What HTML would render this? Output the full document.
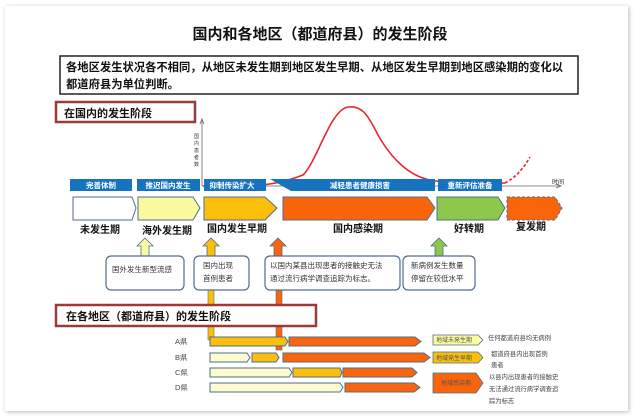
<!DOCTYPE html>
<html><head><meta charset="utf-8"><style>
html,body{margin:0;padding:0;background:#fff;}
svg{display:block;font-family:"Liberation Sans","Noto Sans CJK SC",sans-serif;}
</style></head><body>
<svg width="640" height="420" viewBox="0 0 640 420" xmlns="http://www.w3.org/2000/svg">
<defs>
<filter id="sh" x="-5%" y="-5%" width="110%" height="110%"><feDropShadow dx="1" dy="1" stdDeviation="2" flood-color="#888" flood-opacity="0.6"/></filter>
</defs>
<rect x="5" y="6" width="623" height="405" fill="#fff" filter="url(#sh)"/>
<text x="320" y="39" text-anchor="middle" font-size="15" font-weight="bold" fill="#111">国内和各地区（都道府县）的发生阶段</text>
<rect x="60" y="56" width="518" height="38" fill="#fff" stroke="#222" stroke-width="1.5"/>
<text x="66" y="71" font-size="11.3" font-weight="bold" fill="#111">各地区发生状况各不相同，从地区未发生期到地区发生早期、从地区发生早期到地区感染期的变化以</text>
<text x="66" y="88" font-size="11.3" font-weight="bold" fill="#111">都道府县为单位判断。</text>
<!-- domestic label -->
<rect x="56" y="102" width="139" height="20" fill="#fff" stroke="#9b3a3a" stroke-width="2.5"/>
<text x="64" y="117" font-size="11" font-weight="bold" fill="#111">在国内的发生阶段</text>
<!-- axes -->
<line x1="202" y1="186" x2="202" y2="120" stroke="#666" stroke-width="0.8"/>
<path d="M200,124 L202,119 L204,124" fill="none" stroke="#666" stroke-width="0.8"/>
<line x1="202" y1="186" x2="560" y2="186" stroke="#666" stroke-width="0.8"/>
<path d="M556,184 L561,186 L556,188" fill="none" stroke="#666" stroke-width="0.8"/>
<text x="552" y="184" font-size="6" fill="#222">时间</text>
<text font-size="5" fill="#333"><tspan x="194" y="138">国</tspan><tspan x="194" y="145">内</tspan><tspan x="194" y="152">患</tspan><tspan x="194" y="159">者</tspan><tspan x="194" y="166">数</tspan></text>
<path d="M203,186 L260,185 C275,184 290,180 303,175 C318,160 330,110 348,107 C362,105 368,115 378,135 C392,160 410,176 430,180 C455,185 490,184 505,183" fill="none" stroke="#e8262b" stroke-width="1.6"/>
<path d="M505,183 C515,178 524,168 530,157" fill="none" stroke="#e8262b" stroke-width="1.6" stroke-dasharray="3,2"/>
<!-- blue bars -->
<g fill="#1573c0">
<rect x="70" y="179" width="62" height="12"/>
<rect x="137" y="179" width="63" height="12"/>
<rect x="204" y="179" width="62" height="12"/>
<polygon points="270,179 435,179 435,191 291,191"/>
<rect x="438" y="179" width="64" height="12"/>
</g>
<g font-size="7.5" fill="#fff" font-weight="bold" text-anchor="middle">
<text x="101" y="188">完善体制</text>
<text x="168" y="188">推迟国内发生</text>
<text x="232" y="188">抑制传染扩大</text>
<text x="360" y="188">减轻患者健康损害</text>
<text x="470" y="188">重新评估准备</text>
</g>
<!-- phase arrows -->
<g stroke="#4f6d8e" stroke-width="1">
<polygon points="73,197 132,197 136,208 132,220 73,220" fill="#fff"/>
<polygon points="138,197 193,197 200,208 193,220 138,220" fill="#fafaa0"/>
<polygon points="204,197 265,197 277,208 265,220 204,220" fill="#fbbe0a"/>
<polygon points="283,197 427,197 435,208 427,220 283,220" fill="#fa640a"/>
<polygon points="437,197 498,197 505,208 498,220 437,220" fill="#8cc84b"/>
<polygon points="507,197 555,197 562,208 555,220 507,220" fill="#fa640a" stroke-dasharray="3,2"/>
</g>
<g font-size="10" font-weight="bold" fill="#111" text-anchor="middle">
<text x="100" y="233">未发生期</text>
<text x="167" y="234">海外发生期</text>
<text x="237" y="232">国内发生早期</text>
<text x="358" y="232">国内感染期</text>
<text x="469" y="232">好转期</text>
<text x="531" y="230">复发期</text>
</g>
<!-- up arrows -->
<g stroke="#4f6d8e" stroke-width="0.8">
<polygon points="145,238 153,246 149,246 149,256 141,256 141,246 137,246" fill="#fafaa0"/>
<polygon points="211,238 219,246 215,246 215,256 207,256 207,246 203,246" fill="#fbbe0a"/>
<polygon points="278,238 286,246 282,246 282,256 274,256 274,246 270,246" fill="#fa640a"/>
<polygon points="439,238 447,246 443,246 443,256 435,256 435,246 431,246" fill="#8cc84b"/>
</g>
<!-- vertical connectors -->
<rect x="208" y="288" width="6" height="52" fill="#fbbe0a" stroke="#4f6d8e" stroke-width="0.6"/>
<rect x="276" y="288" width="6" height="62" fill="#fa640a" stroke="#4f6d8e" stroke-width="0.6"/>
<!-- callouts -->
<g fill="#fff" stroke="#4f6d8e" stroke-width="1.2">
<rect x="106" y="256" width="78" height="34" rx="5"/>
<rect x="194" y="256" width="55" height="34" rx="5"/>
<rect x="265" y="256" width="135" height="34" rx="5"/>
<rect x="403" y="256" width="72" height="34" rx="5"/>
</g>
<g font-size="7.5" fill="#333">
<text x="112" y="272">国外发生新型流感</text>
<text x="203" y="268">国内出现</text>
<text x="203" y="281">首例患者</text>
<text x="270" y="268">以国内某县出现患者的接触史无法</text>
<text x="270" y="281">通过流行病学调查追踪为标志。</text>
<text x="411" y="268">新病例发生数量</text>
<text x="411" y="281">停留在较低水平</text>
</g>
<!-- regional label -->
<rect x="56" y="305" width="260" height="21" fill="#fff" stroke="#9b3a3a" stroke-width="2.5"/>
<text x="66" y="320" font-size="11" font-weight="bold" fill="#111">在各地区（都道府县）的发生阶段</text>
<!-- rows -->
<g font-size="7.5" fill="#444">
<text x="175" y="344">A県</text><text x="175" y="360">B県</text><text x="175" y="375">C県</text><text x="175" y="390">D県</text>
</g>
<g stroke="#4f6d8e" stroke-width="1">
<polygon points="210,337 285,337 288,341.5 285,346 210,346" fill="#fbbe0a"/>
<polygon points="289,337 415,337 421,341.5 415,346 289,346" fill="#fa640a"/>
<polygon points="210,353 247,353 250,357.5 247,362 210,362" fill="#fdfbd0"/>
<polygon points="252,353 276,353 279,357.5 276,362 252,362" fill="#fbbe0a"/>
<polygon points="283,353 424,353 430,357.5 424,362 283,362" fill="#fa640a"/>
<polygon points="210,368 289,368 292,372.5 289,377 210,377" fill="#fdfbd0"/>
<polygon points="293,368 340,368 342,372.5 340,377 293,377" fill="#fbbe0a"/>
<polygon points="343,368 412,368 417,372.5 412,377 343,377" fill="#fa640a"/>
<polygon points="210,383 340,383 343,387.5 340,392 210,392" fill="#fdfbd0"/>
<polygon points="345,383 414,383 420,387.5 414,392 345,392" fill="#fa640a"/>
</g>
<!-- legend -->
<g stroke="#4f6d8e" stroke-width="0.8">
<polygon points="433,335 478,335 483,340 478,345 433,345" fill="#fafaa0"/>
<polygon points="433,352 478,352 483,357.5 478,363 433,363" fill="#fbbe0a"/>
<polygon points="433,373 476,373 483,383 476,393 433,393" fill="#fa640a"/>
</g>
<g font-size="6" fill="#555">
<text x="436" y="342">地域未発生期</text>
<text x="436" y="360">地域発生早期</text>
<text x="441" y="385">地域感染期</text>
</g>
<g font-size="6.3" fill="#444">
<text x="488" y="340">任何都道府县均无病例</text>
<text x="491" y="356">都道府县内出现首例</text>
<text x="491" y="367">患者</text>
<text x="489" y="379">以县内出现患者的接触史</text>
<text x="489" y="391">无法通过流行病学调查追</text>
<text x="489" y="403">踪为标志</text>
</g>
</svg>
</body></html>
